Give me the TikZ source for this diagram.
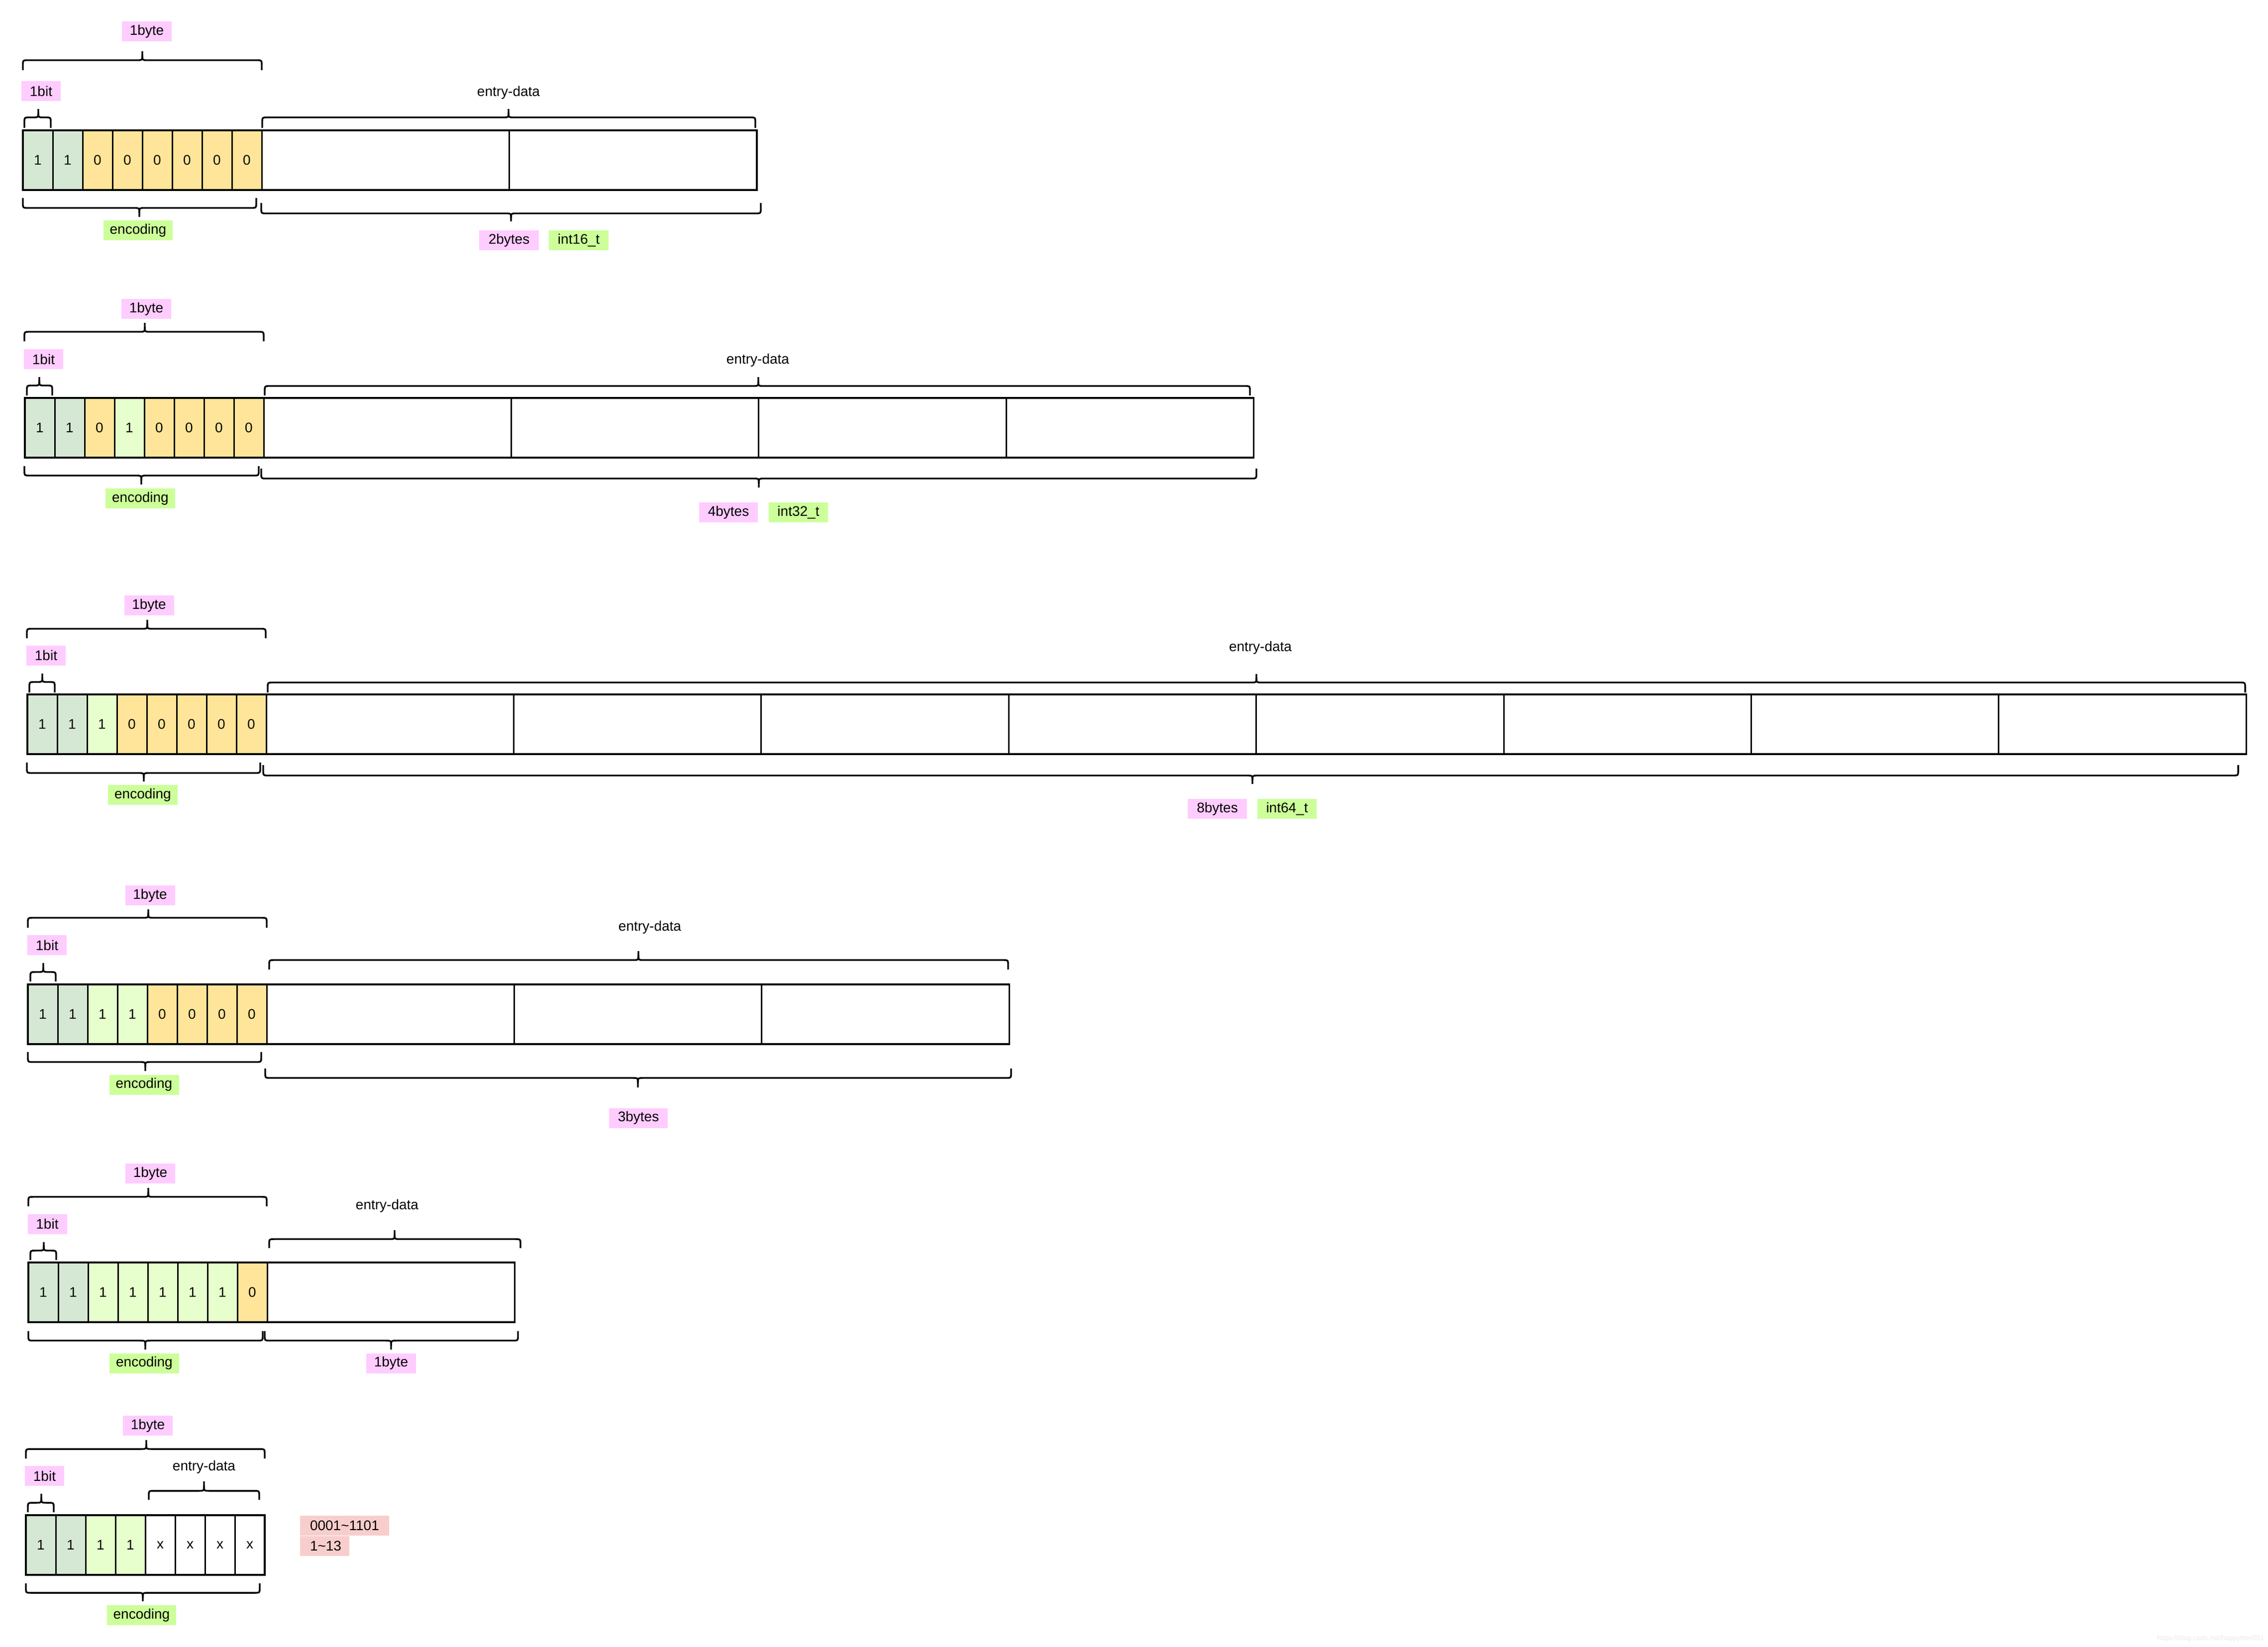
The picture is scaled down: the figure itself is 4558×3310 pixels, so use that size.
\documentclass[tikz,border=0pt]{standalone}
\usepackage{fontspec}
\setmainfont{Liberation Sans}
\definecolor{cGG}{HTML}{D5E8D4}
\definecolor{cLG}{HTML}{E6FFCC}
\definecolor{cY}{HTML}{FFE599}
\definecolor{cPink}{HTML}{FFCCFF}
\definecolor{cGreenL}{HTML}{CCFF99}
\definecolor{cRed}{HTML}{F8CECC}
\tikzset{
  base/.style={font=\fontsize{7}{8.4}\selectfont, inner sep=0pt, outer sep=0pt},
  bitcell/.style={base, draw=black, line width=0.75pt, anchor=north west, minimum width=15pt, minimum height=30pt},
  entcell/.style={base, draw=black, line width=0.75pt, anchor=north west, minimum width=124.35pt, minimum height=30pt, fill=white},
  frame/.style={draw=black, line width=0.85pt},
  brace/.style={draw=black, line width=0.85pt},
  tag/.style={base, minimum height=10pt},
  pinktag/.style={tag, fill=cPink},
  greentag/.style={tag, fill=cGreenL},
  redtag/.style={tag, fill=cRed, anchor=west, align=left, inner xsep=5pt},
  plain/.style={base}
}
\newcommand\BitRow[4]{\foreach \f/\t [count=\i] in {#4} {\node[bitcell, fill=\f] (#1b\i) at ({#2+60*(\i-1)},#3) {\t};}}
\newcommand\EntRow[4]{\foreach \j in {1,...,#4} {\node[entcell] (#1e\j) at ({#2+480+497.4*(\j-1)},#3) {};}}
\newcommand\TopBr[6]{%
  \draw[brace] (#1,#4) -- (#1,{#5+10}) .. controls (#1,#5) .. ({#1+10},#5) -- ({#3-10},#5) .. controls (#3,#5) .. (#3,{#5-10}) -- (#3,#6);
  \draw[brace] (#2,#4) -- (#2,{#5+10}) .. controls (#2,#5) .. ({#2-10},#5) -- ({#3+10},#5) .. controls (#3,#5) .. (#3,{#5-10});
}
\newcommand\BotBr[6]{%
  \draw[brace] (#1,#4) -- (#1,{#5-10}) .. controls (#1,#5) .. ({#1+10},#5) -- ({#3-10},#5) .. controls (#3,#5) .. (#3,{#5+10}) -- (#3,#6);
  \draw[brace] (#2,#4) -- (#2,{#5-10}) .. controls (#2,#5) .. ({#2-10},#5) -- ({#3+10},#5) .. controls (#3,#5) .. (#3,{#5+10});
}
\begin{document}
\begin{tikzpicture}[x=0.25pt, y=-0.25pt]
\fill[white] (0,0) rectangle (4558,3310);
\useasboundingbox (0,0) rectangle (4558,3310);

% ---------- Row 1 ----------
\BitRow{r1}{46}{262}{cGG/1,cGG/1,cY/0,cY/0,cY/0,cY/0,cY/0,cY/0}
\EntRow{r1}{46}{262}{2}
\draw[frame] (r1b1.north west) rectangle (r1e2.south east);
\node[pinktag, minimum width=25pt] (r1byte) at (295,63) {1byte};
\node[pinktag, minimum width=19.75pt] (r1bit) at (82.5,183) {1bit};
\node[plain] (r1ed) at (1022,186) {entry-data};
\node[greentag, minimum width=34.75pt] (r1enc) at (277.5,463) {encoding};
\node[pinktag, minimum width=30pt] (r1sz) at (1023,483) {2bytes};
\node[greentag, minimum width=30pt] (r1ty) at (1163,483) {int16\_t};
\TopBr{46}{526}{286}{141}{121}{103}
\TopBr{49}{102}{77}{257}{236}{219}
\TopBr{527}{1518}{1022}{257}{236}{219}
\BotBr{46}{515}{280}{398}{418}{436}
\BotBr{525}{1529}{1027}{408}{429}{445}

% ---------- Row 2 ----------
\BitRow{r2}{50}{800}{cGG/1,cGG/1,cY/0,cLG/1,cY/0,cY/0,cY/0,cY/0}
\EntRow{r2}{50}{800}{4}
\draw[frame] (r2b1.north west) rectangle (r2e4.south east);
\node[pinktag, minimum width=25pt] (r2byte) at (294,621) {1byte};
\node[pinktag, minimum width=19.75pt] (r2bit) at (87.5,722) {1bit};
\node[plain] (r2ed) at (1523,724) {entry-data};
\node[greentag, minimum width=35pt] (r2enc) at (282,1002) {encoding};
\node[pinktag, minimum width=29.5pt] (r2sz) at (1464,1030) {4bytes};
\node[greentag, minimum width=29.75pt] (r2ty) at (1604.5,1030) {int32\_t};
\TopBr{49}{530}{291}{686}{667}{649}
\TopBr{54}{105}{79}{795}{775}{758}
\TopBr{532}{2512}{1524}{795}{776}{758}
\BotBr{49}{520}{284}{937}{956}{974}
\BotBr{525}{2525}{1525}{942}{962}{980}

% ---------- Row 3 ----------
\BitRow{r3}{55}{1396}{cGG/1,cGG/1,cLG/1,cY/0,cY/0,cY/0,cY/0,cY/0}
\EntRow{r3}{55}{1396}{8}
\draw[frame] (r3b1.north west) rectangle (r3e8.south east);
\node[pinktag, minimum width=25pt] (r3byte) at (299.5,1217) {1byte};
\node[pinktag, minimum width=19.75pt] (r3bit) at (92.5,1317.5) {1bit};
\node[plain] (r3ed) at (2533,1302) {entry-data};
\node[greentag, minimum width=35pt] (r3enc) at (287,1598) {encoding};
\node[pinktag, minimum width=29.75pt] (r3sz) at (2446.5,1626) {8bytes};
\node[greentag, minimum width=29.75pt] (r3ty) at (2586.5,1626) {int64\_t};
\TopBr{54}{534}{296}{1283}{1264}{1246}
\TopBr{59}{110}{85}{1392}{1371}{1354}
\TopBr{538}{4512}{2525}{1392}{1372}{1355}
\BotBr{54}{523}{289}{1533}{1554}{1571}
\BotBr{529}{4498}{2517}{1538}{1559}{1576}

% ---------- Row 4 ----------
\BitRow{r4}{56}{1979}{cGG/1,cGG/1,cLG/1,cLG/1,cY/0,cY/0,cY/0,cY/0}
\EntRow{r4}{56}{1979}{3}
\draw[frame] (r4b1.north west) rectangle (r4e3.south east);
\node[pinktag, minimum width=25pt] (r4byte) at (301.5,1800) {1byte};
\node[pinktag, minimum width=19.75pt] (r4bit) at (94.5,1900) {1bit};
\node[plain] (r4ed) at (1306,1864) {entry-data};
\node[greentag, minimum width=35pt] (r4enc) at (289.5,2180.5) {encoding};
\node[pinktag, minimum width=29.5pt] (r4sz) at (1283,2247.5) {3bytes};
\TopBr{56}{536}{298}{1865}{1845}{1828}
\TopBr{61}{112}{87}{1973}{1954}{1936}
\TopBr{541}{2026}{1283}{1949}{1930}{1912}
\BotBr{56}{525}{292}{2115}{2135}{2153}
\BotBr{533}{2032}{1282}{2148}{2167}{2186}

% ---------- Row 5 ----------
\BitRow{r5}{57}{2538}{cGG/1,cGG/1,cLG/1,cLG/1,cLG/1,cLG/1,cLG/1,cY/0}
\EntRow{r5}{57}{2538}{1}
\draw[frame] (r5b1.north west) rectangle (r5e1.south east);
\node[pinktag, minimum width=25pt] (r5byte) at (302,2359) {1byte};
\node[pinktag, minimum width=19.75pt] (r5bit) at (95,2460.5) {1bit};
\node[plain] (r5ed) at (778,2424) {entry-data};
\node[greentag, minimum width=35pt] (r5enc) at (290,2740.5) {encoding};
\node[pinktag, minimum width=25pt] (r5sz) at (786,2740.5) {1byte};
\TopBr{57}{536}{298}{2425}{2406}{2388}
\TopBr{61}{113}{88}{2533}{2514}{2497}
\TopBr{541}{1046}{793}{2509}{2491}{2473}
\BotBr{57}{528}{292}{2676}{2695}{2713}
\BotBr{532}{1041}{786}{2676}{2695}{2713}

% ---------- Row 6 ----------
\BitRow{r6}{52}{3046}{cGG/1,cGG/1,cLG/1,cLG/1,white/x,white/x,white/x,white/x}
\draw[frame] (r6b1.north west) rectangle (r6b8.south east);
\node[pinktag, minimum width=25pt] (r6byte) at (297,2866) {1byte};
\node[pinktag, minimum width=19.75pt] (r6bit) at (89.5,2967) {1bit};
\node[plain] (r6ed) at (410,2949) {entry-data};
\node[greentag, minimum width=34.75pt] (r6enc) at (284.5,3247) {encoding};
\node[redtag, text width=34.75pt] (r6rng) at (603,3066.5) {0001\textasciitilde1101};
\node[redtag, text width=14.75pt] (r6dec) at (603,3107.5) {1\textasciitilde13};
\TopBr{52}{532}{294}{2932}{2913}{2895}
\TopBr{56}{108}{83}{3040}{3021}{3003}
\TopBr{299}{521}{410}{3015}{2997}{2978}
\BotBr{52}{522}{287}{3183}{3202}{3219}

% watermark
\node[base, font=\fontsize{3.5}{4}\selectfont, text=black!8, anchor=south east] (wm) at (4550,3300) {https://blog.csdn.net/happytree001};
\end{tikzpicture}
\end{document}
